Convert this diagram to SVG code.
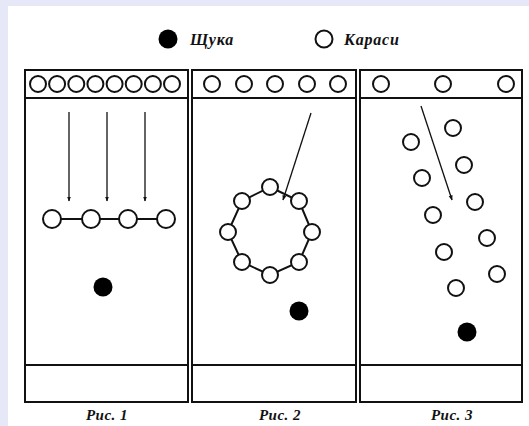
<svg xmlns="http://www.w3.org/2000/svg" width="529" height="426" viewBox="0 0 529 426">
<defs>
<style>
.bg{fill:#e6e7f7}
.frame{fill:none;stroke:#111;stroke-width:2}
.line{stroke:#111;stroke-width:2}
.fish{fill:#fff;stroke:#111;stroke-width:2}
.pike{fill:#000}
.arrow{stroke:#111;stroke-width:1.3;fill:none;marker-end:url(#ah)}
.lbl{font-family:"Liberation Serif","DejaVu Serif",serif;font-style:italic;font-weight:bold;fill:#111}
</style>
<marker id="ah" viewBox="0 0 10 10" refX="9" refY="5" markerWidth="5" markerHeight="5" orient="auto" markerUnits="userSpaceOnUse">
<path d="M0,1 L10,5 L0,9 Z" fill="#111"/>
</marker>
</defs>
<rect x="0" y="0" width="529" height="426" class="bg"/>
<rect x="8" y="6" width="521" height="420" fill="#fff"/>

<g id="legend">
<circle cx="168" cy="39" r="9.5" class="pike"/>
<text x="190" y="45" class="lbl" font-size="16" letter-spacing="0.8">Щука</text>
<circle cx="324" cy="39" r="8.5" class="fish"/>
<text x="344" y="45" class="lbl" font-size="16" letter-spacing="0.8">Караси</text>
</g>

<g id="panel1">
<rect x="25" y="70" width="163" height="332" class="frame"/>
<line x1="25" y1="98" x2="188" y2="98" class="line"/>
<line x1="25" y1="365" x2="188" y2="365" class="line"/>
<g>
<circle cx="38" cy="84" r="8" class="fish"/>
<circle cx="57.1" cy="84" r="8" class="fish"/>
<circle cx="76.3" cy="84" r="8" class="fish"/>
<circle cx="95.4" cy="84" r="8" class="fish"/>
<circle cx="114.6" cy="84" r="8" class="fish"/>
<circle cx="133.7" cy="84" r="8" class="fish"/>
<circle cx="152.9" cy="84" r="8" class="fish"/>
<circle cx="172" cy="84" r="8" class="fish"/>
</g>
<line x1="52" y1="219" x2="166" y2="219" class="line"/>
<circle cx="52" cy="219" r="9" class="fish"/>
<circle cx="91" cy="219" r="9" class="fish"/>
<circle cx="128" cy="219" r="9" class="fish"/>
<circle cx="166" cy="219" r="9" class="fish"/>
<circle cx="103" cy="287" r="9.5" class="pike"/>
<text x="107" y="420" class="lbl" font-size="15" text-anchor="middle" letter-spacing="0.5">Рис. 1</text>
</g>

<g id="panel2">
<rect x="192" y="70" width="164" height="332" class="frame"/>
<line x1="192" y1="98" x2="356" y2="98" class="line"/>
<line x1="192" y1="365" x2="356" y2="365" class="line"/>
<circle cx="212" cy="84" r="8" class="fish"/>
<circle cx="244" cy="84" r="8" class="fish"/>
<circle cx="275" cy="84" r="8" class="fish"/>
<circle cx="307" cy="84" r="8" class="fish"/>
<circle cx="338" cy="84" r="8" class="fish"/>
<polygon points="270,187 299,201 312,232 299,262 270,275 242,262 228,232 242,201" fill="none" stroke="#111" stroke-width="2"/>
<circle cx="270" cy="187" r="8" class="fish"/>
<circle cx="299" cy="201" r="8" class="fish"/>
<circle cx="312" cy="232" r="8" class="fish"/>
<circle cx="299" cy="262" r="8" class="fish"/>
<circle cx="270" cy="275" r="8" class="fish"/>
<circle cx="242" cy="262" r="8" class="fish"/>
<circle cx="228" cy="232" r="8" class="fish"/>
<circle cx="242" cy="201" r="8" class="fish"/>
<circle cx="299" cy="311" r="9.5" class="pike"/>
<text x="280" y="420" class="lbl" font-size="15" text-anchor="middle" letter-spacing="0.5">Рис. 2</text>
</g>

<g id="panel3">
<rect x="360" y="70" width="162" height="332" class="frame"/>
<line x1="360" y1="98" x2="522" y2="98" class="line"/>
<line x1="360" y1="365" x2="522" y2="365" class="line"/>
<circle cx="381" cy="84" r="8" class="fish"/>
<circle cx="443" cy="84" r="8" class="fish"/>
<circle cx="506" cy="84" r="8" class="fish"/>
<circle cx="453" cy="128" r="8" class="fish"/>
<circle cx="411" cy="142" r="8" class="fish"/>
<circle cx="464" cy="165" r="8" class="fish"/>
<circle cx="422" cy="178" r="8" class="fish"/>
<circle cx="475" cy="202" r="8" class="fish"/>
<circle cx="433" cy="215" r="8" class="fish"/>
<circle cx="487" cy="238" r="8" class="fish"/>
<circle cx="444" cy="252" r="8" class="fish"/>
<circle cx="497" cy="274" r="8" class="fish"/>
<circle cx="456" cy="288" r="8" class="fish"/>
<circle cx="467" cy="332" r="9.5" class="pike"/>
<text x="452" y="420" class="lbl" font-size="15" text-anchor="middle" letter-spacing="0.5">Рис. 3</text>
</g>

<g id="connectors">
<line x1="69" y1="112" x2="69" y2="201" class="arrow"/>
<line x1="107" y1="112" x2="107" y2="201" class="arrow"/>
<line x1="145" y1="112" x2="145" y2="201" class="arrow"/>
<line x1="311" y1="113" x2="283" y2="200" class="arrow"/>
<line x1="421" y1="106" x2="452" y2="200" class="arrow"/>
</g>
</svg>
